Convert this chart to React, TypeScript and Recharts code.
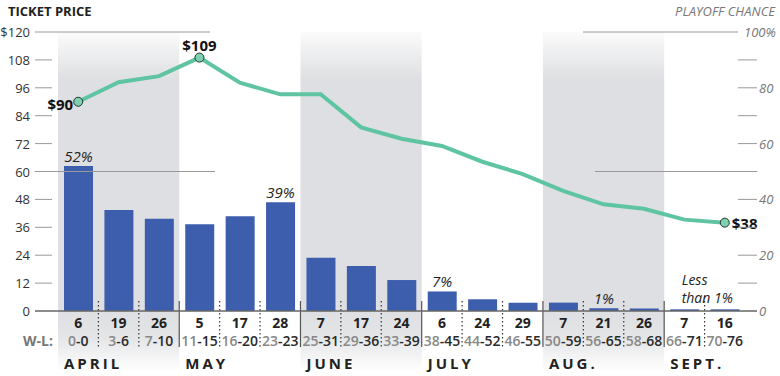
import React from "react";
import {
  ComposedChart,
  Bar,
  Line,
  XAxis,
  YAxis,
  ReferenceArea,
  LabelList,
} from "recharts";

// one entry per home stand start
const months = [
  "APRIL", "APRIL", "APRIL",
  "MAY", "MAY", "MAY",
  "JUNE", "JUNE", "JUNE",
  "JULY", "JULY", "JULY",
  "AUG.", "AUG.", "AUG.",
  "SEPT.", "SEPT.",
];
const days = [6, 19, 26, 5, 17, 28, 7, 17, 24, 6, 24, 29, 7, 21, 26, 7, 16];
const wins = [0, 3, 7, 11, 16, 23, 25, 29, 33, 38, 44, 46, 50, 56, 58, 66, 70];
const losses = [0, 6, 10, 15, 20, 23, 31, 36, 39, 45, 52, 55, 59, 65, 68, 71, 76];

const ticketPrice = [90, 98.4, 101, 109, 98.2, 93.2, 93.2, 79, 74.1, 71, 64.2, 58.9, 51.7, 45.9, 44, 39.3, 38];
const playoffChance = [52, 36.2, 33.1, 31.1, 34, 39, 19.1, 16.1, 11.1, 7, 4.2, 3, 3, 1, 0.9, 0.6, 0.6];

const chanceLabels = ["52%", "", "", "", "", "39%", "", "", "", "7%", "", "", "", "1%", "", "Less|than 1%", ""];
const priceLabels = ["$90", "", "", "$109", "", "", "", "", "", "", "", "", "", "", "", "", "$38"];

const shadedMonths = ["APRIL", "JUNE", "AUG."];
const priceTicks = [0, 12, 24, 36, 48, 60, 72, 84, 96, 108, 120];
const chanceTicks = [0, 10, 20, 30, 40, 50, 60, 70, 80, 90, 100];

const data = days.map((d, i) => ({
  id: `${months[i]} ${d}`,
  price: ticketPrice[i],
  chance: playoffChance[i],
}));

const BLUE = "#3d5eac";
const GREEN = "#5ec4a1";

const GameTick = (props: any) => {
  const { x, y, payload } = props;
  const i = payload.index ?? props.index;
  const half = payload.offset ?? 20;
  const left = x - half;
  const firstOfMonth = i === 0 || months[i] !== months[i - 1];
  return (
    <g>
      {i > 0 && (
        <line
          x1={left}
          x2={left}
          y1={y - 10}
          y2={y + 36}
          stroke={firstOfMonth ? "#555" : "#333"}
          strokeWidth={1.2}
          strokeDasharray={firstOfMonth ? undefined : "1.5 2.5"}
        />
      )}
      <text x={x} y={y + 17} textAnchor="middle" fontWeight="bold" fontSize={14} fill="#222">
        {days[i]}
      </text>
      <text x={x} y={y + 35} textAnchor="middle" fontWeight={600} fontSize={14}>
        <tspan fill="#888">{wins[i]}</tspan>
        <tspan fill="#2a2a2a">-{losses[i]}</tspan>
      </text>
      {firstOfMonth && (
        <text x={left + 6} y={y + 58} fontWeight="bold" fontSize={15} letterSpacing={3} fill="#222">
          {months[i]}
        </text>
      )}
      {i === 0 && (
        <text x={left - 5} y={y + 35} textAnchor="end" fontWeight="bold" fontSize={14} fill="#777">
          W-L:
        </text>
      )}
    </g>
  );
};

const PriceTick = (props: any) => {
  const { x, y, payload } = props;
  const v = payload.value;
  const end = v === 120 ? 152 : v === 60 ? 157 : v === 0 ? 699 : -6;
  return (
    <g>
      <line
        x1={x - 23}
        x2={x + end}
        y1={y}
        y2={y}
        stroke={v === 0 ? "#666" : "#999"}
        strokeWidth={v === 0 ? 1.5 : 1}
      />
      <text x={x - 28} y={y + 5} textAnchor="end" fontSize={13} fill="#333">
        {v === 120 ? "$120" : v}
      </text>
    </g>
  );
};

const ChanceTick = (props: any) => {
  const { x, y, payload } = props;
  const v = payload.value;
  const start = v === 100 ? -162 : v === 50 ? -150 : -7;
  const end = v === 100 ? -7 : 12;
  const label = v === 100 ? "100%" : v % 20 === 0 ? String(v) : "";
  return (
    <g>
      {v !== 0 && <line x1={x + start} x2={x + end} y1={y} y2={y} stroke="#999" strokeWidth={1} />}
      <text
        x={v === 100 ? x - 1 : x + 14}
        y={y + 5}
        fontSize={13}
        fontStyle="italic"
        fill="#777"
      >
        {label}
      </text>
    </g>
  );
};

const renderChanceLabel = (props: any) => {
  const { x, y, width, index } = props;
  const lab = chanceLabels[index];
  if (!lab) return null;
  const cx = x + width / 2;
  if (lab.includes("|")) {
    const [a, b] = lab.split("|");
    return (
      <g>
        <text x={cx - 3} y={y - 24} fontSize={14} fontStyle="italic" fill="#222">{a}</text>
        <text x={cx - 3} y={y - 6} fontSize={14} fontStyle="italic" fill="#222">{b}</text>
      </g>
    );
  }
  return (
    <text x={cx} y={y - 4} textAnchor="middle" fontSize={15} fontStyle="italic" fill="#222">
      {lab}
    </text>
  );
};

const renderDot = (props: any) => {
  const { cx, cy, index } = props;
  const lab = priceLabels[index];
  if (!lab) return <g key={index} />;
  let tx = cx;
  let ty = cy - 7;
  let anchor: "start" | "middle" | "end" = "middle";
  if (index === 0) {
    tx = cx - 5;
    ty = cy + 8;
    anchor = "end";
  } else if (index === priceLabels.length - 1) {
    tx = cx + 7;
    ty = cy + 6;
    anchor = "start";
  }
  return (
    <g key={index}>
      <circle cx={cx} cy={cy} r={4.5} fill="#7fd0b1" stroke="#22332e" strokeWidth={1} />
      <text x={tx} y={ty} textAnchor={anchor} fontSize={15} fontWeight="bold" fill="#111">
        {lab}
      </text>
    </g>
  );
};

export default function App() {
  return (
    <div
      style={{
        position: "absolute",
        left: 0,
        top: 0,
        width: 780,
        height: 376,
        fontFamily: "'Open Sans', sans-serif",
        background: "#fff",
      }}
    >
      <div style={{ position: "absolute", left: 8, top: 2, fontSize: 13, fontWeight: 700, color: "#222" }}>
        TICKET PRICE
      </div>
      <div
        style={{
          position: "absolute",
          right: 5,
          top: 2,
          fontSize: 13,
          fontStyle: "italic",
          color: "#777",
        }}
      >
        PLAYOFF CHANCE
      </div>
      <ComposedChart
        width={780}
        height={376}
        data={data}
        margin={{ top: 32, right: 0, bottom: 0, left: 0 }}
      >
        <defs>
          <linearGradient id="bandFade" x1="0" y1="0" x2="0" y2="1">
            <stop offset="0" stopColor="#fbfbfb" />
            <stop offset="0.14" stopColor="#dedfe2" />
            <stop offset="0.82" stopColor="#dedfe2" />
            <stop offset="0.9" stopColor="#e4e5e7" />
            <stop offset="1" stopColor="#ffffff" />
          </linearGradient>
        </defs>
        {shadedMonths.map((m) => {
          const first = months.indexOf(m);
          const last = months.lastIndexOf(m);
          return (
            <ReferenceArea
              key={m}
              yAxisId="price"
              x1={data[first].id}
              x2={data[last].id}
              y1={-26}
              y2={120}
              ifOverflow="visible"
              fill="url(#bandFade)"
              fillOpacity={1}
              stroke="none"
            />
          );
        })}
        <XAxis
          dataKey="id"
          interval={0}
          height={65}
          axisLine={false}
          tickLine={false}
          tickSize={0}
          tickMargin={0}
          tick={<GameTick />}
        />
        <YAxis
          yAxisId="price"
          orientation="left"
          width={58}
          domain={[0, 120]}
          ticks={priceTicks}
          axisLine={false}
          tickLine={false}
          tickSize={0}
          tickMargin={0}
          tick={<PriceTick />}
        />
        <YAxis
          yAxisId="pct"
          orientation="right"
          width={35}
          domain={[0, 100]}
          ticks={chanceTicks}
          axisLine={false}
          tickLine={false}
          tickSize={0}
          tickMargin={0}
          tick={<ChanceTick />}
        />
        <Bar yAxisId="pct" dataKey="chance" fill={BLUE} barSize={29} isAnimationActive={false}>
          <LabelList dataKey="chance" content={renderChanceLabel} />
        </Bar>
        <Line
          yAxisId="price"
          dataKey="price"
          stroke={GREEN}
          strokeWidth={4}
          dot={renderDot}
          activeDot={false}
          isAnimationActive={false}
        />
      </ComposedChart>
    </div>
  );
}
